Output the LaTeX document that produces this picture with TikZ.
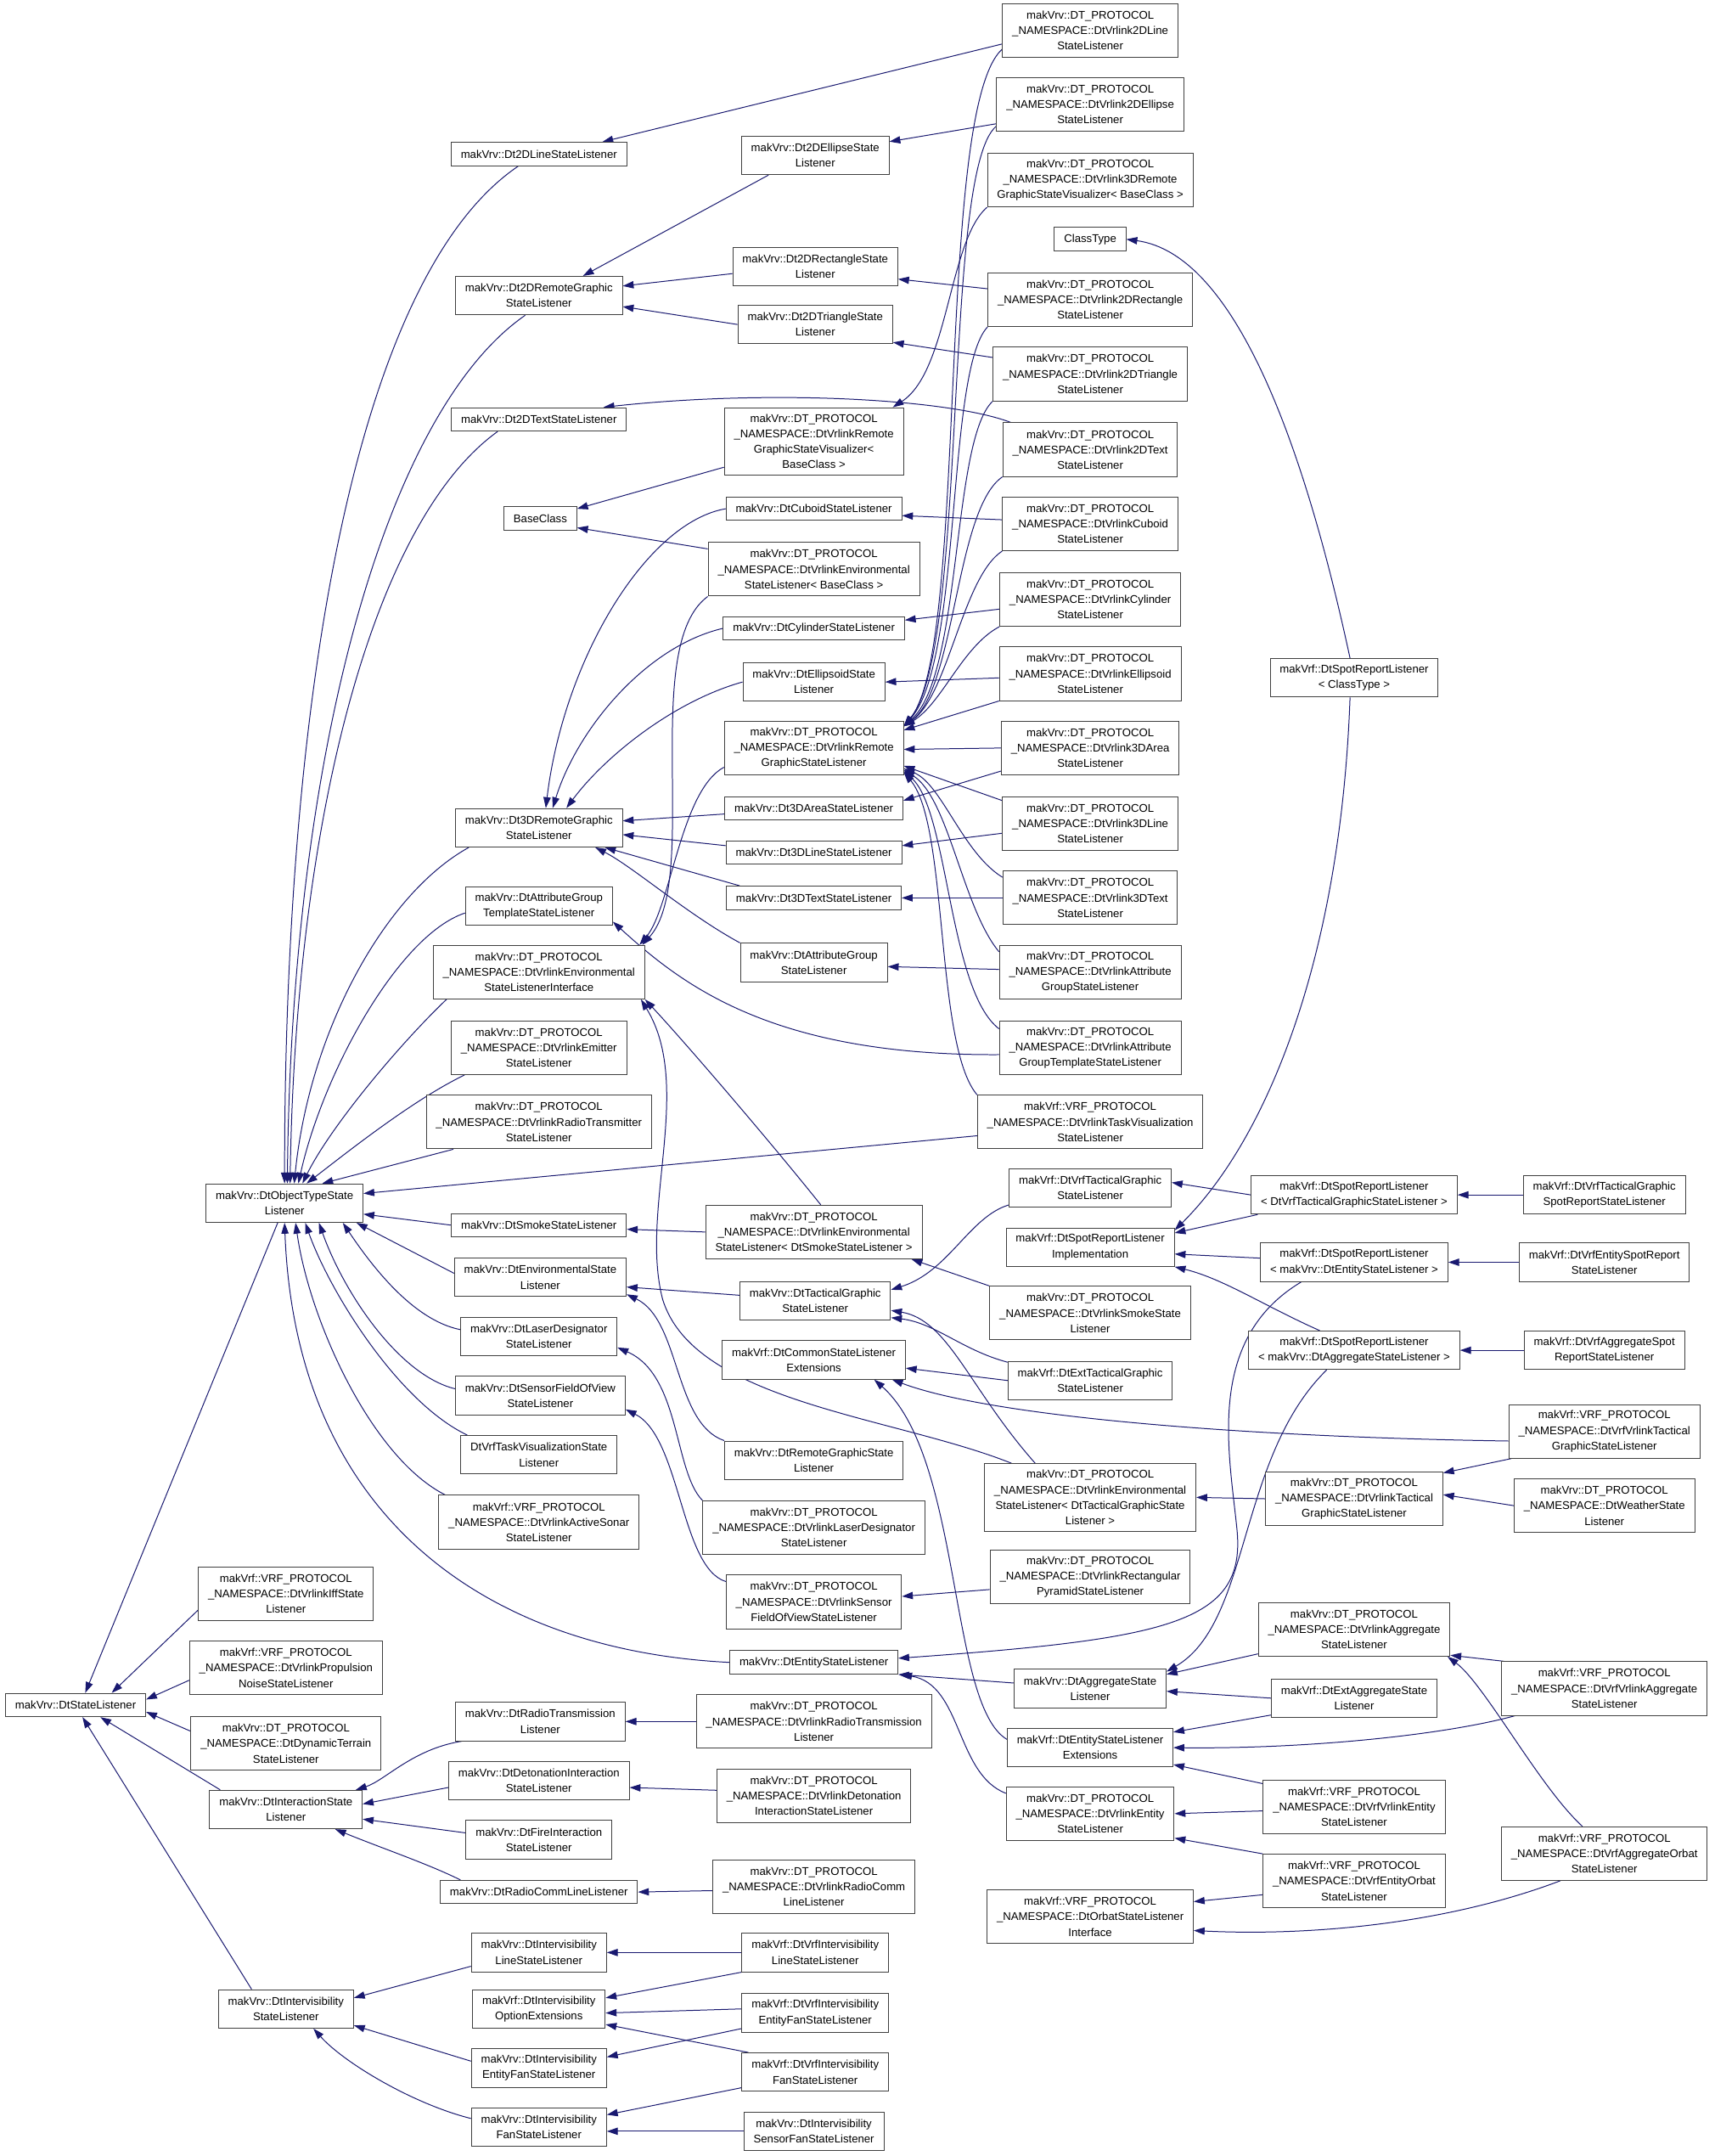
\documentclass[tikz,border=0pt]{standalone}
\usepackage{fontspec}
\setmainfont{Liberation Sans}
\usetikzlibrary{calc,arrows.meta,backgrounds}
\definecolor{doxyblue}{RGB}{25,25,112}
\begin{document}
\begin{tikzpicture}[x=0.02cm,y=-0.02cm,
        class box/.style={draw=black!75, line width=.35pt, fill=white, align=center,
                          inner xsep=4pt, inner ysep=0pt, font=\fontsize{4.63}{6.4}\selectfont},
        one line/.style={class box, minimum height=.34cm},
        two lines/.style={class box, minimum height=.56cm},
        three lines/.style={class box, minimum height=.78cm},
        four lines/.style={class box, minimum height=.98cm},
        derived/.style={doxyblue, line width=.35pt, -{Triangle[length=4.5pt,width=3pt]}}]
  \useasboundingbox (0,0) rectangle (1247,1568);

  \node[one line]    (sl)     at (55,1240)  {makVrv::DtStateListener};

  \node[two lines]   (ots)    at (207,875)  {makVrv::DtObjectTypeState\\Listener};
  \node[three lines] (iff)    at (208,1159) {makVrf::VRF\_PROTOCOL\\\_NAMESPACE::DtVrlinkIffState\\Listener};
  \node[three lines] (prop)   at (208,1213) {makVrf::VRF\_PROTOCOL\\\_NAMESPACE::DtVrlinkPropulsion\\NoiseStateListener};
  \node[three lines] (terr)   at (208,1268) {makVrv::DT\_PROTOCOL\\\_NAMESPACE::DtDynamicTerrain\\StateListener};
  \node[two lines]   (inter)  at (208,1316) {makVrv::DtInteractionState\\Listener};
  \node[two lines]   (ivis)   at (208,1461) {makVrv::DtIntervisibility\\StateListener};

  \node[one line]    (l2d)    at (392,112)  {makVrv::Dt2DLineStateListener};
  \node[two lines]   (rg2d)   at (392,215)  {makVrv::Dt2DRemoteGraphic\\StateListener};
  \node[one line]    (t2d)    at (392,305)  {makVrv::Dt2DTextStateListener};
  \node[one line]    (base)   at (393,377)  {BaseClass};
  \node[two lines]   (rg3d)   at (392,602)  {makVrv::Dt3DRemoteGraphic\\StateListener};
  \node[two lines]   (agt)    at (392,659)  {makVrv::DtAttributeGroup\\TemplateStateListener};
  \node[three lines] (envi)   at (392,707)  {makVrv::DT\_PROTOCOL\\\_NAMESPACE::DtVrlinkEnvironmental\\StateListenerInterface};
  \node[three lines] (emit)   at (392,762)  {makVrv::DT\_PROTOCOL\\\_NAMESPACE::DtVrlinkEmitter\\StateListener};
  \node[three lines] (radtx)  at (392,816)  {makVrv::DT\_PROTOCOL\\\_NAMESPACE::DtVrlinkRadioTransmitter\\StateListener};
  \node[one line]    (smoke)  at (392,891)  {makVrv::DtSmokeStateListener};
  \node[two lines]   (env)    at (393,929)  {makVrv::DtEnvironmentalState\\Listener};
  \node[two lines]   (laser)  at (392,972)  {makVrv::DtLaserDesignator\\StateListener};
  \node[two lines]   (sfov)   at (393,1015) {makVrv::DtSensorFieldOfView\\StateListener};
  \node[two lines]   (taskv)  at (392,1058) {DtVrfTaskVisualizationState\\Listener};
  \node[three lines] (sonar)  at (392,1107) {makVrf::VRF\_PROTOCOL\\\_NAMESPACE::DtVrlinkActiveSonar\\StateListener};
  \node[two lines]   (rtrans) at (393,1252) {makVrv::DtRadioTransmission\\Listener};
  \node[two lines]   (deton)  at (392,1295) {makVrv::DtDetonationInteraction\\StateListener};
  \node[two lines]   (fire)   at (392,1338) {makVrv::DtFireInteraction\\StateListener};
  \node[one line]    (rcomm)  at (392,1376) {makVrv::DtRadioCommLineListener};
  \node[two lines]   (ivline) at (392,1420) {makVrv::DtIntervisibility\\LineStateListener};
  \node[two lines]   (ivopt)  at (392,1461) {makVrf::DtIntervisibility\\OptionExtensions};
  \node[two lines]   (iventf) at (392,1504) {makVrv::DtIntervisibility\\EntityFanStateListener};
  \node[two lines]   (ivfan)  at (392,1547) {makVrv::DtIntervisibility\\FanStateListener};

  \node[two lines]   (ell2d)  at (593,113)  {makVrv::Dt2DEllipseState\\Listener};
  \node[two lines]   (rect2d) at (593,194)  {makVrv::Dt2DRectangleState\\Listener};
  \node[two lines]   (tri2d)  at (593,236)  {makVrv::Dt2DTriangleState\\Listener};
  \node[four lines]  (rgviz)  at (592,321)  {makVrv::DT\_PROTOCOL\\\_NAMESPACE::DtVrlinkRemote\\GraphicStateVisualizer<\\BaseClass >};
  \node[one line]    (cub)    at (592,370)  {makVrv::DtCuboidStateListener};
  \node[three lines] (envb)   at (592,414)  {makVrv::DT\_PROTOCOL\\\_NAMESPACE::DtVrlinkEnvironmental\\StateListener< BaseClass >};
  \node[one line]    (cyl)    at (592,457)  {makVrv::DtCylinderStateListener};
  \node[two lines]   (elld)   at (592,496)  {makVrv::DtEllipsoidState\\Listener};
  \node[three lines] (rgsl)   at (592,544)  {makVrv::DT\_PROTOCOL\\\_NAMESPACE::DtVrlinkRemote\\GraphicStateListener};
  \node[one line]    (a3d)    at (592,588)  {makVrv::Dt3DAreaStateListener};
  \node[one line]    (l3d)    at (592,620)  {makVrv::Dt3DLineStateListener};
  \node[one line]    (t3d)    at (592,653)  {makVrv::Dt3DTextStateListener};
  \node[two lines]   (agsl)   at (592,700)  {makVrv::DtAttributeGroup\\StateListener};
  \node[three lines] (envs)   at (592,896)  {makVrv::DT\_PROTOCOL\\\_NAMESPACE::DtVrlinkEnvironmental\\StateListener< DtSmokeStateListener >};
  \node[two lines]   (tg)     at (593,946)  {makVrv::DtTacticalGraphic\\StateListener};
  \node[two lines]   (cse)    at (592,989)  {makVrf::DtCommonStateListener\\Extensions};
  \node[two lines]   (rgs)    at (592,1062) {makVrv::DtRemoteGraphicState\\Listener};
  \node[three lines] (vlaser) at (592,1111) {makVrv::DT\_PROTOCOL\\\_NAMESPACE::DtVrlinkLaserDesignator\\StateListener};
  \node[three lines] (vsfov)  at (592,1165) {makVrv::DT\_PROTOCOL\\\_NAMESPACE::DtVrlinkSensor\\FieldOfViewStateListener};
  \node[one line]    (ent)    at (592,1209) {makVrv::DtEntityStateListener};
  \node[three lines] (vrtrans) at (592,1252) {makVrv::DT\_PROTOCOL\\\_NAMESPACE::DtVrlinkRadioTransmission\\Listener};
  \node[three lines] (vdeton) at (592,1306) {makVrv::DT\_PROTOCOL\\\_NAMESPACE::DtVrlinkDetonation\\InteractionStateListener};
  \node[three lines] (vrcomm) at (592,1372) {makVrv::DT\_PROTOCOL\\\_NAMESPACE::DtVrlinkRadioComm\\LineListener};
  \node[two lines]   (vfline) at (593,1420) {makVrf::DtVrfIntervisibility\\LineStateListener};
  \node[two lines]   (vfentf) at (593,1464) {makVrf::DtVrfIntervisibility\\EntityFanStateListener};
  \node[two lines]   (vffan)  at (593,1507) {makVrf::DtVrfIntervisibility\\FanStateListener};
  \node[two lines]   (ivsfan) at (592,1550) {makVrv::DtIntervisibility\\SensorFanStateListener};

  \node[three lines] (v2dline) at (793,22)  {makVrv::DT\_PROTOCOL\\\_NAMESPACE::DtVrlink2DLine\\StateListener};
  \node[three lines] (v2dell)  at (793,76)  {makVrv::DT\_PROTOCOL\\\_NAMESPACE::DtVrlink2DEllipse\\StateListener};
  \node[three lines] (v3drgv)  at (793,131) {makVrv::DT\_PROTOCOL\\\_NAMESPACE::DtVrlink3DRemote\\GraphicStateVisualizer< BaseClass >};
  \node[one line]    (ctype)   at (793,174) {ClassType};
  \node[three lines] (v2drect) at (793,218) {makVrv::DT\_PROTOCOL\\\_NAMESPACE::DtVrlink2DRectangle\\StateListener};
  \node[three lines] (v2dtri)  at (793,272) {makVrv::DT\_PROTOCOL\\\_NAMESPACE::DtVrlink2DTriangle\\StateListener};
  \node[three lines] (v2dtext) at (793,327) {makVrv::DT\_PROTOCOL\\\_NAMESPACE::DtVrlink2DText\\StateListener};
  \node[three lines] (vcub)    at (793,381) {makVrv::DT\_PROTOCOL\\\_NAMESPACE::DtVrlinkCuboid\\StateListener};
  \node[three lines] (vcyl)    at (793,436) {makVrv::DT\_PROTOCOL\\\_NAMESPACE::DtVrlinkCylinder\\StateListener};
  \node[three lines] (vell)    at (793,490) {makVrv::DT\_PROTOCOL\\\_NAMESPACE::DtVrlinkEllipsoid\\StateListener};
  \node[three lines] (v3darea) at (793,544) {makVrv::DT\_PROTOCOL\\\_NAMESPACE::DtVrlink3DArea\\StateListener};
  \node[three lines] (v3dline) at (793,599) {makVrv::DT\_PROTOCOL\\\_NAMESPACE::DtVrlink3DLine\\StateListener};
  \node[three lines] (v3dtext) at (793,653) {makVrv::DT\_PROTOCOL\\\_NAMESPACE::DtVrlink3DText\\StateListener};
  \node[three lines] (vag)     at (793,707) {makVrv::DT\_PROTOCOL\\\_NAMESPACE::DtVrlinkAttribute\\GroupStateListener};
  \node[three lines] (vagt)    at (793,762) {makVrv::DT\_PROTOCOL\\\_NAMESPACE::DtVrlinkAttribute\\GroupTemplateStateListener};
  \node[three lines] (vtaskv)  at (793,816) {makVrf::VRF\_PROTOCOL\\\_NAMESPACE::DtVrlinkTaskVisualization\\StateListener};
  \node[two lines]   (vftg)    at (793,864) {makVrf::DtVrfTacticalGraphic\\StateListener};
  \node[two lines]   (srli)    at (793,907) {makVrf::DtSpotReportListener\\Implementation};
  \node[three lines] (vsmoke)  at (793,955) {makVrv::DT\_PROTOCOL\\\_NAMESPACE::DtVrlinkSmokeState\\Listener};
  \node[two lines]   (etg)     at (793,1004) {makVrf::DtExtTacticalGraphic\\StateListener};
  \node[four lines]  (envtg)   at (793,1089) {makVrv::DT\_PROTOCOL\\\_NAMESPACE::DtVrlinkEnvironmental\\StateListener< DtTacticalGraphicState\\Listener >};
  \node[three lines] (vrpyr)   at (793,1147) {makVrv::DT\_PROTOCOL\\\_NAMESPACE::DtVrlinkRectangular\\PyramidStateListener};
  \node[two lines]   (agg)     at (793,1228) {makVrv::DtAggregateState\\Listener};
  \node[two lines]   (ese)     at (793,1271) {makVrf::DtEntityStateListener\\Extensions};
  \node[three lines] (vent)    at (793,1319) {makVrv::DT\_PROTOCOL\\\_NAMESPACE::DtVrlinkEntity\\StateListener};
  \node[three lines] (orbi)    at (793,1394) {makVrf::VRF\_PROTOCOL\\\_NAMESPACE::DtOrbatStateListener\\Interface};

  \node[two lines]   (srct)    at (985,493)  {makVrf::DtSpotReportListener\\< ClassType >};
  \node[two lines]   (srtg)    at (985,869)  {makVrf::DtSpotReportListener\\< DtVrfTacticalGraphicStateListener >};
  \node[two lines]   (sre)     at (985,918)  {makVrf::DtSpotReportListener\\< makVrv::DtEntityStateListener >};
  \node[two lines]   (sra)     at (985,982)  {makVrf::DtSpotReportListener\\< makVrv::DtAggregateStateListener >};
  \node[three lines] (vtg)     at (985,1090) {makVrv::DT\_PROTOCOL\\\_NAMESPACE::DtVrlinkTactical\\GraphicStateListener};
  \node[three lines] (vagg)    at (985,1185) {makVrv::DT\_PROTOCOL\\\_NAMESPACE::DtVrlinkAggregate\\StateListener};
  \node[two lines]   (eagg)    at (985,1235) {makVrf::DtExtAggregateState\\Listener};
  \node[three lines] (vfvent)  at (985,1314) {makVrf::VRF\_PROTOCOL\\\_NAMESPACE::DtVrfVrlinkEntity\\StateListener};
  \node[three lines] (vforb)   at (985,1368) {makVrf::VRF\_PROTOCOL\\\_NAMESPACE::DtVrfEntityOrbat\\StateListener};

  \node[two lines]   (vftgsr)  at (1167,869)  {makVrf::DtVrfTacticalGraphic\\SpotReportStateListener};
  \node[two lines]   (vfesr)   at (1167,918)  {makVrf::DtVrfEntitySpotReport\\StateListener};
  \node[two lines]   (vfasr)   at (1167,982)  {makVrf::DtVrfAggregateSpot\\ReportStateListener};
  \node[three lines] (vfvtg)   at (1167,1041) {makVrf::VRF\_PROTOCOL\\\_NAMESPACE::DtVrfVrlinkTactical\\GraphicStateListener};
  \node[three lines] (weather) at (1167,1095) {makVrv::DT\_PROTOCOL\\\_NAMESPACE::DtWeatherState\\Listener};
  \node[three lines] (vfvagg)  at (1167,1228) {makVrf::VRF\_PROTOCOL\\\_NAMESPACE::DtVrfVrlinkAggregate\\StateListener};
  \node[three lines] (vfaorb)  at (1167,1348) {makVrf::VRF\_PROTOCOL\\\_NAMESPACE::DtVrfAggregateOrbat\\StateListener};

  \begin{scope}[on background layer]
    \fill[white] (0,0) rectangle (1247,1568);

    \draw[derived] ($(ots.south)+(-5,0)$)      -- ($(sl.north)+(7,0)$);
    \draw[derived] ($(iff.west)+(0,12)$)       -- ($(sl.north east)+(-25,0)$);
    \draw[derived] ($(prop.west)+(0,9)$)       -- ($(sl.east)+(0,-4)$);
    \draw[derived] ($(terr.west)+(0,-9)$)      -- ($(sl.east)+(0,5)$);
    \draw[derived] ($(inter.north west)+(8,0)$) -- ($(sl.south)+(18,0)$);
    \draw[derived] ($(ivis.north)+(-25,0)$)    -- ($(sl.south)+(5,0)$);

    \draw[derived] ($(l2d.south)+(-15,0)$)        .. controls (260,200) and (207,500) .. (ots.north);
    \draw[derived] ($(rg2d.south)+(-10,0)$)       .. controls (280,300) and (212,550) .. ($(ots.north)+(2,0)$);
    \draw[derived] ($(t2d.south)+(-30,0)$)        .. controls (270,380) and (215,600) .. ($(ots.north)+(4,0)$);
    \draw[derived] ($(rg3d.south west)+(10,0)$)   .. controls (280,650) and (225,750) .. ($(ots.north)+(7,0)$);
    \draw[derived] ($(agt.west)+(0,5)$)           .. controls (290,680) and (235,780) .. ($(ots.north)+(10,0)$);
    \draw[derived] ($(envi.south west)+(10,0)$)   .. controls (290,760) and (240,820) .. ($(ots.north)+(13,0)$);
    \draw[derived] ($(emit.south west)+(10,0)$)   .. controls (300,800) and (250,840) .. ($(ots.north)+(16,0)$);
    \draw[derived] ($(radtx.south west)+(20,0)$)  -- ($(ots.north east)+(-30,0)$);
    \draw[derived] ($(vtaskv.west)+(0,10)$)       -- ($(ots.east)+(0,-7)$);
    \draw[derived] (smoke.west)                   -- ($(ots.east)+(0,8)$);
    \draw[derived] ($(env.west)+(0,-3)$)          -- ($(ots.south east)+(-5,0)$);
    \draw[derived] ($(laser.west)+(0,-5)$)        .. controls (300,960) and (270,920) .. ($(ots.south east)+(-15,0)$);
    \draw[derived] ($(sfov.west)+(0,-5)$)         .. controls (290,1000) and (250,940) .. ($(ots.south)+(25,0)$);
    \draw[derived] ($(taskv.north west)+(5,0)$)   .. controls (290,1020) and (240,940) .. ($(ots.south)+(15,0)$);
    \draw[derived] ($(sonar.north west)+(5,0)$)   .. controls (270,1060) and (225,960) .. ($(ots.south)+(8,0)$);
    \draw[derived] (ent.west)                     .. controls (350,1200) and (215,1100) .. (ots.south);

    \draw[derived] ($(v2dline.west)+(0,10)$)  -- ($(l2d.north east)+(-18,0)$);
    \draw[derived] ($(ell2d.south west)+(20,0)$) -- ($(rg2d.north)+(32,0)$);
    \draw[derived] ($(rect2d.west)+(0,5)$)    -- ($(rg2d.east)+(0,-7)$);
    \draw[derived] (tri2d.west)               -- ($(rg2d.east)+(0,8)$);
    \draw[derived] ($(v2dell.west)+(0,14)$)   -- ($(ell2d.east)+(0,-10)$);
    \draw[derived] ($(v2drect.west)+(0,-8)$)  -- ($(rect2d.east)+(0,9)$);
    \draw[derived] ($(v2dtri.west)+(0,-12)$)  -- ($(tri2d.east)+(0,13)$);
    \draw[derived] ($(v2dtext.north west)+(6,0)$) .. controls (690,290) and (560,283) .. ($(t2d.north east)+(-17,0)$);
    \draw[derived] ($(rgviz.south west)+(0,-6)$) -- ($(base.east)+(0,-7)$);
    \draw[derived] ($(envb.north west)+(0,5)$)   -- ($(base.south east)+(0,-2)$);
    \draw[derived] (v3drgv.south west) .. controls (690,175) and (690,270) .. ($(rgviz.north east)+(-8,0)$);
    \draw[derived] ($(vcub.west)+(0,-3)$)     -- ($(cub.east)+(0,5)$);
    \draw[derived] ($(vcyl.west)+(0,7)$)      -- ($(cyl.east)+(0,-6)$);
    \draw[derived] ($(vell.west)+(0,3)$)      -- (elld.east);

    \draw[derived] ($(v2dline.south west)+(0,-6)$) .. controls (680,80) and (705,470) .. ($(rgsl.north east)+(0,4)$);
    \draw[derived] ($(v2dell.south west)+(0,-4)$)  .. controls (685,125) and (705,470) .. ($(rgsl.north east)+(0,4)$);
    \draw[derived] (v2drect.south west) .. controls (688,270) and (700,480) .. ($(rgsl.north east)+(0,4)$);
    \draw[derived] (v2dtri.south west)  .. controls (692,320) and (700,490) .. ($(rgsl.north east)+(0,4)$);
    \draw[derived] (v2dtext.south west) .. controls (695,370) and (695,500) .. ($(rgsl.north east)+(0,4)$);
    \draw[derived] (vcub.south west)    .. controls (700,420) and (690,505) .. ($(rgsl.north east)+(0,4)$);
    \draw[derived] (vcyl.south west)    .. controls (700,470) and (685,512) .. ($(rgsl.north east)+(0,4)$);
    \draw[derived] (vell.south west)    -- ($(rgsl.east)+(0,-13)$);
    \draw[derived] (v3darea.west)       -- ($(rgsl.east)+(0,1)$);
    \draw[derived] ($(v3darea.south west)+(0,-3)$) -- ($(a3d.north east)+(0,3)$);
    \draw[derived] ($(v3dline.north west)+(0,3)$)  -- ($(rgsl.east)+(0,13)$);
    \draw[derived] ($(v3dline.west)+(0,7)$)        -- ($(l3d.east)+(0,-5)$);
    \draw[derived] ($(v3dtext.west)+(0,-15)$) .. controls (700,620) and (685,570) .. ($(rgsl.east)+(0,15)$);
    \draw[derived] (v3dtext.west)                  -- (t3d.east);
    \draw[derived] ($(vag.north west)+(0,5)$)  .. controls (700,660) and (690,580) .. ($(rgsl.east)+(0,16)$);
    \draw[derived] ($(vag.west)+(0,-2)$)           -- ($(agsl.east)+(0,3)$);
    \draw[derived] ($(vagt.north west)+(0,6)$) .. controls (690,720) and (690,590) .. ($(rgsl.south east)+(0,-3)$);
    \draw[derived] ($(vagt.west)+(0,5)$)       .. controls (560,768) and (495,715) .. ($(agt.south east)+(0,-3)$);
    \draw[derived] (vtaskv.north west)         .. controls (680,760) and (690,600) .. ($(rgsl.south east)+(0,-2)$);

    \draw[derived] (cub.west)  .. controls (470,380) and (410,480) .. ($(rg3d.north)+(5,0)$);
    \draw[derived] (cyl.west)  .. controls (470,470) and (420,530) .. ($(rg3d.north)+(10,0)$);
    \draw[derived] (elld.west) .. controls (490,510) and (440,550) .. ($(rg3d.north)+(20,0)$);
    \draw[derived] ($(a3d.west)+(0,4)$)         -- ($(rg3d.east)+(0,-5)$);
    \draw[derived] ($(l3d.west)+(0,-5)$)        -- ($(rg3d.east)+(0,5)$);
    \draw[derived] ($(t3d.north west)+(10,0)$)  -- ($(rg3d.south east)+(-13,0)$);
    \draw[derived] (agsl.north west) .. controls (500,665) and (460,630) .. ($(rg3d.south east)+(-20,0)$);

    \draw[derived] (envb.south west) .. controls (465,470) and (510,640) .. ($(envi.north east)+(-2,0)$);
    \draw[derived] ($(rgsl.west)+(0,14)$) .. controls (495,575) and (488,660) .. ($(envi.north east)+(-4,0)$);
    \draw[derived] ($(envs.north)+(5,0)$) .. controls (560,830) and (500,760) .. (envi.south east);
    \draw[derived] ($(envtg.north west)+(20,0)$) .. controls (650,1030) and (505,1020) .. (482,945)
                   .. controls (465,880) and (505,790) .. ($(envi.south east)+(-3,0)$);

    \draw[derived] (envs.west)                -- ($(smoke.east)+(0,3)$);
    \draw[derived] ($(tg.west)+(0,-4)$)       -- ($(env.east)+(0,7)$);
    \draw[derived] (rgs.north west)   .. controls (490,1035) and (495,960) .. ($(env.south east)+(0,-2)$);
    \draw[derived] (vlaser.north west) .. controls (490,1070) and (495,1000) .. ($(laser.east)+(0,8)$);
    \draw[derived] ($(vsfov.north west)+(0,5)$) .. controls (495,1140) and (495,1045) .. ($(sfov.east)+(0,10)$);
    \draw[derived] ($(vftg.south west)+(0,-2)$) .. controls (705,885) and (690,925) .. ($(tg.east)+(0,-8)$);
    \draw[derived] ($(etg.north west)+(0,1)$)   .. controls (700,982) and (680,962) .. ($(tg.south east)+(0,-2)$);
    \draw[derived] ($(envtg.north)+(-40,0)$)    .. controls (705,1010) and (690,960) .. ($(tg.east)+(0,7)$);
    \draw[derived] (vsmoke.north west)        -- ($(envs.south east)+(-8,0)$);
    \draw[derived] (etg.west)                 -- ($(cse.east)+(0,6)$);
    \draw[derived] ($(ese.west)+(0,-6)$)      .. controls (690,1240) and (700,1060) .. ($(cse.south east)+(-23,0)$);
    \draw[derived] ($(vfvtg.west)+(0,7)$)     .. controls (900,1045) and (720,1030) .. ($(cse.south east)+(-10,0)$);

    \draw[derived] ($(srct.north)+(-3,0)$)    .. controls (950,330) and (900,185) .. (ctype.east);
    \draw[derived] ($(srct.south)+(-3,0)$)    .. controls (975,700) and (920,830) .. ($(srli.north east)+(0,2)$);
    \draw[derived] ($(srtg.south west)+(5,0)$) -- ($(srli.north east)+(0,4)$);
    \draw[derived] ($(sre.west)+(0,-3)$)      -- ($(srli.east)+(0,5)$);
    \draw[derived] ($(sra.north)+(-25,0)$)    .. controls (920,950) and (890,930) .. (srli.south east);
    \draw[derived] (srtg.west)                -- ($(vftg.east)+(0,-4)$);
    \draw[derived] (vftgsr.west)              -- (srtg.east);
    \draw[derived] (vfesr.west)               -- (sre.east);
    \draw[derived] (vfasr.west)               -- (sra.east);
    \draw[derived] ($(sre.south west)+(30,0)$) .. controls (875,975) and (895,1060) .. (900,1115)
                   .. controls (905,1180) and (850,1192) .. ($(ent.east)+(0,-3)$);
    \draw[derived] ($(sra.south)+(-20,0)$)    .. controls (900,1060) and (910,1180) .. ($(agg.north east)+(0,2)$);
    \draw[derived] ($(vagg.south west)+(0,-2)$) -- ($(agg.north east)+(0,4)$);
    \draw[derived] (eagg.west)                -- ($(agg.east)+(0,2)$);
    \draw[derived] ($(eagg.south west)+(0,-2)$) -- ($(ese.north east)+(0,3)$);
    \draw[derived] ($(vfvagg.south west)+(10,0)$) .. controls (1050,1262) and (950,1272) .. (ese.east);
    \draw[derived] ($(vfvent.north west)+(0,3)$) -- ($(ese.south east)+(0,-2)$);
    \draw[derived] ($(vfvent.west)+(0,3)$)    -- (vent.east);
    \draw[derived] (vforb.north west)         -- ($(vent.south east)+(0,-2)$);
    \draw[derived] ($(vforb.west)+(0,10)$)    -- ($(orbi.east)+(0,-11)$);
    \draw[derived] ($(vfaorb.south)+(-32,0)$) .. controls (1050,1400) and (950,1408) .. ($(orbi.east)+(0,10)$);
    \draw[derived] ($(vfvagg.north west)+(2,0)$) -- ($(vagg.south east)+(0,-1)$);
    \draw[derived] ($(vfaorb.north)+(-16,0)$) .. controls (1120,1300) and (1080,1225) .. ($(vagg.south east)+(-2,0)$);
    \draw[derived] ($(vfvtg.south west)+(2,0)$) -- ($(vtg.north east)+(0,1)$);
    \draw[derived] (weather.west)             -- ($(vtg.east)+(0,-3)$);
    \draw[derived] (vtg.west)                 -- (envtg.east);
    \draw[derived] ($(vrpyr.west)+(0,9)$)     -- ($(vsfov.east)+(0,-4)$);
    \draw[derived] ($(agg.west)+(0,-4)$)      -- (ent.south east);
    \draw[derived] ($(vent.north west)+(0,5)$) .. controls (695,1290) and (700,1225) .. ($(ent.south east)+(2,0)$);

    \draw[derived] (vrtrans.west)             -- (rtrans.east);
    \draw[derived] ($(vdeton.west)+(0,-4)$)   -- ($(deton.east)+(0,5)$);
    \draw[derived] ($(vrcomm.west)+(0,3)$)    -- (rcomm.east);
    \draw[derived] ($(rtrans.south west)+(5,0)$) .. controls (300,1272) and (280,1295) .. ($(inter.north east)+(-5,0)$);
    \draw[derived] ($(deton.west)+(0,5)$)     -- ($(inter.east)+(0,-4)$);
    \draw[derived] ($(fire.west)+(0,-5)$)     -- ($(inter.east)+(0,7)$);
    \draw[derived] ($(rcomm.north west)+(15,0)$) .. controls (310,1355) and (280,1345) .. ($(inter.south east)+(-20,0)$);
    \draw[derived] ($(ivline.west)+(0,10)$)   -- ($(ivis.east)+(0,-8)$);
    \draw[derived] ($(iventf.west)+(0,-5)$)   -- ($(ivis.east)+(0,12)$);
    \draw[derived] ($(ivfan.north west)+(0,8)$) .. controls (300,1530) and (250,1500) .. ($(ivis.south)+(20,0)$);
    \draw[derived] (vfline.west)              -- (ivline.east);
    \draw[derived] (vfline.south west)        -- ($(ivopt.east)+(0,-8)$);
    \draw[derived] ($(vfentf.west)+(0,-3)$)   -- ($(ivopt.east)+(0,3)$);
    \draw[derived] ($(vffan.north west)+(5,0)$) -- ($(ivopt.south east)+(0,-3)$);
    \draw[derived] ($(vfentf.south west)+(0,-3)$) -- ($(iventf.east)+(0,-8)$);
    \draw[derived] ($(vffan.south west)+(0,-3)$)  -- ($(ivfan.east)+(0,-9)$);
    \draw[derived] (ivsfan.west)              -- ($(ivfan.east)+(0,3)$);
  \end{scope}
\end{tikzpicture}
\end{document}
